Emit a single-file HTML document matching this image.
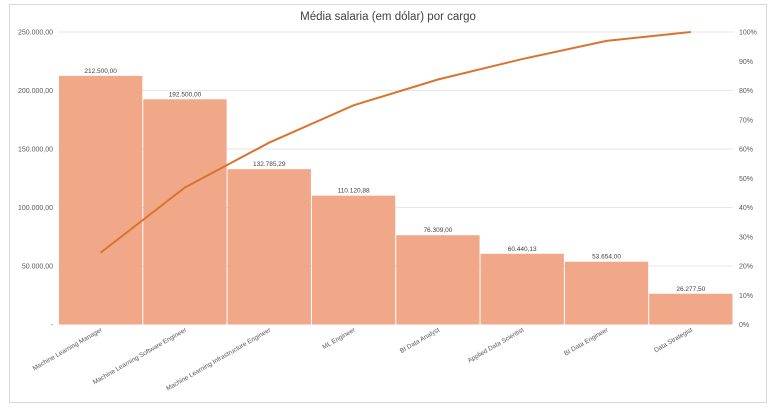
<!DOCTYPE html>
<html><head><meta charset="utf-8"><style>
body{margin:0;background:#fff;width:776px;height:410px;overflow:hidden;font-family:"Liberation Sans",Arial,sans-serif}
</style></head><body>
<svg width="776" height="410" xmlns="http://www.w3.org/2000/svg">
<rect x="9.5" y="4.5" width="757" height="398" fill="#fff" stroke="#d9d9d9"/>
<text x="388" y="20" text-anchor="middle" font-size="11.5" fill="#404040">Média salaria (em dólar) por cargo</text>
<g id="g"></g>
</svg>
<script>
const categories=["Machine Learning Manager","Machine Learning Software Engineer","Machine Learning Infrastructure Engineer","ML Engineer","BI Data Analyst","Applied Data Scientist","BI Data Engineer","Data Strategist"];
const values=[212500,192500,132785.29,110120.88,76309,60440.13,53654,26277.5];
const leftTicks=[0,50000,100000,150000,200000,250000];
const rightTicks=[0,10,20,30,40,50,60,70,80,90,100];
const NS="http://www.w3.org/2000/svg",g=document.getElementById('g');
const X0=58.5,X1=733,Y0=324.5,Y1=32;
const y=v=>Y0-(v/250000)*(Y0-Y1);
const yp=p=>Y0-(p/100)*(Y0-Y1);
const bw=(X1-X0)/categories.length;
function el(t,a,txt){const e=document.createElementNS(NS,t);for(const k in a)e.setAttribute(k,a[k]);if(txt!=null)e.textContent=txt;g.appendChild(e);return e;}
const fmt=v=>{let s=v.toFixed(2).replace('.',',');let [i,d]=s.split(',');i=i.replace(/\B(?=(\d{3})+(?!\d))/g,'.');return i+','+d;};
leftTicks.forEach(t=>{
 if(t>0){const l=el('line',{x1:X0,x2:X1,y1:y(t),y2:y(t),stroke:'#e6e6e6'});
 
 }
 const tx=el('text',{x:53,y:y(t)+2.5,'text-anchor':'end','font-size':'7',fill:'#595959'},t===0?'-':fmt(t));
 
 
});
rightTicks.forEach(t=>{
 const tx=el('text',{x:739,y:yp(t)+2.5,'font-size':'7',fill:'#595959'},t+'%');
 
 
});
const total=values.reduce((a,b)=>a+b,0);let cum=0;const pts=[];
values.forEach((v,i)=>{
 const x=X0+i*bw;
 const r=el('rect',{x:x+0.5,y:y(v),width:bw-1,height:Y0-y(v),fill:'#f0a889'});
 
 
 const lb=el('text',{x:x+bw/2,y:y(v)-3,'text-anchor':'middle','font-size':'6.5',fill:'#404040'},fmt(v));
 
 
 const cx=x+bw/2;
 const c=el('text',{x:cx+2,y:331,'text-anchor':'end','font-size':'6.5',fill:'#595959',transform:`rotate(-30 ${cx+2} 331)`},categories[i]);
 
 
 cum+=v;pts.push(cx+','+yp(cum/total*100));
});
const pl=el('polyline',{points:pts.join(' '),fill:'none',stroke:'#d9742f','stroke-width':'2'});


</script>
</body></html>
